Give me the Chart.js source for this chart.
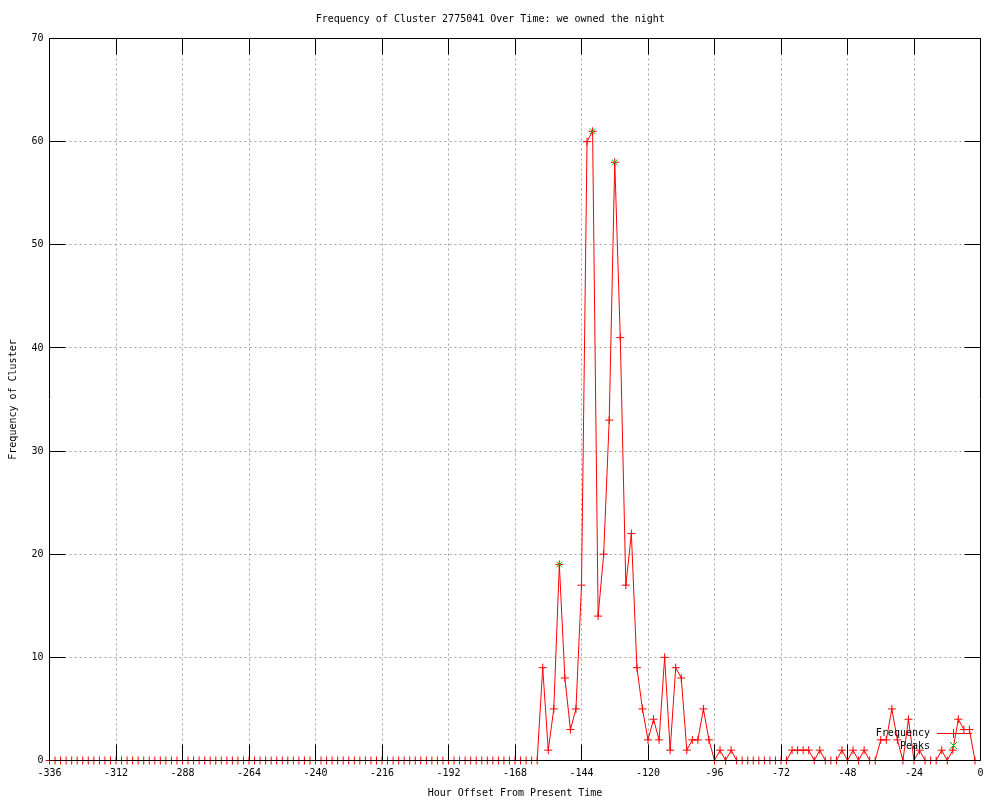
<!DOCTYPE html>
<html lang="en">

<head>
    <meta charset="utf-8">
    <title>Frequency of Cluster 2775041</title>
    <script src="https://cdn.jsdelivr.net/npm/chart.js"></script>
    <style>
        html, body { margin: 0; padding: 0; background: #fff; }
        #wrap { width: 1000px; height: 800px; }
    </style>
</head>

<body>
    <div id="wrap"><canvas id="grafico" width="1000" height="800"></canvas></div>

    <script>
        // hourly buckets, every 2 hours from -336 to -2
        const startHour = -336;
        const hourStep = 2;

        // -336 .. -160 are all zero (89 buckets)
        const quietHours = 89;

        // -158 .. -2
        const frequency = [
            9, 1, 5, 19, 8, 3, 5, 17, 60, 61,
            14, 20, 33, 58, 41, 17, 22, 9, 5, 2,
            4, 2, 10, 1, 9, 8, 1, 2, 2, 5,
            2, 0, 1, 0, 1, 0, 0, 0, 0, 0,
            0, 0, 0, 0, 0, 1, 1, 1, 1, 0,
            1, 0, 0, 0, 1, 0, 1, 0, 1, 0,
            0, 2, 2, 5, 2, 0, 4, 0, 1, 0,
            0, 0, 1, 0, 1, 4, 3, 3, 0
        ];

        const peakHours = [-152, -140, -132];
        const peakValues = [19, 61, 58];

        const xTicks = [-336, -312, -288, -264, -240, -216, -192, -168, -144, -120, -96, -72, -48, -24, 0];
        const yTicks = [0, 10, 20, 30, 40, 50, 60, 70];

        const allValues = new Array(quietHours).fill(0).concat(frequency);
        const freqPoints = allValues.map((v, i) => ({ x: startHour + i * hourStep, y: v }));
        const peakPoints = peakHours.map((h, i) => ({ x: h, y: peakValues[i] }));

        const FONT = '"DejaVu Sans Mono", "Liberation Mono", monospace';

        // gnuplot style frame: dotted grid, border and inward ticks on every side, key
        const moldura = {
            id: 'moldura',
            beforeDatasetsDraw(chart) {
                const { ctx, chartArea: a, scales: { x, y } } = chart;
                ctx.save();
                ctx.strokeStyle = '#a0a0a0';
                ctx.lineWidth = 1;
                ctx.setLineDash([2, 3]);
                ctx.beginPath();
                xTicks.slice(1, -1).forEach(t => {
                    const px = Math.floor(x.getPixelForValue(t)) + 0.5;
                    ctx.moveTo(px, a.top); ctx.lineTo(px, a.bottom);
                });
                yTicks.slice(1, -1).forEach(t => {
                    const py = Math.floor(y.getPixelForValue(t)) + 0.5;
                    ctx.moveTo(a.left, py); ctx.lineTo(a.right, py);
                });
                ctx.stroke();
                ctx.restore();
            },
            afterDatasetsDraw(chart) {
                const { ctx, chartArea: a, scales: { x, y } } = chart;
                const L = Math.floor(a.left) + 0.5, R = Math.floor(a.right) + 0.5;
                const T = Math.floor(a.top) + 0.5, B = Math.floor(a.bottom) + 0.5;
                const tl = 16;
                ctx.save();
                ctx.strokeStyle = '#000';
                ctx.lineWidth = 1;
                ctx.beginPath();
                ctx.rect(L, T, R - L, B - T);
                xTicks.forEach(t => {
                    const px = Math.floor(x.getPixelForValue(t)) + 0.5;
                    ctx.moveTo(px, B); ctx.lineTo(px, B - tl);
                    ctx.moveTo(px, T); ctx.lineTo(px, T + tl);
                });
                yTicks.forEach(t => {
                    const py = Math.floor(y.getPixelForValue(t)) + 0.5;
                    ctx.moveTo(L, py); ctx.lineTo(L + tl, py);
                    ctx.moveTo(R, py); ctx.lineTo(R - tl, py);
                });
                ctx.stroke();

                // key
                ctx.font = '10px ' + FONT;
                ctx.fillStyle = '#000';
                ctx.textAlign = 'right';
                ctx.textBaseline = 'middle';
                ctx.fillText('Frequency', 930, 733);
                ctx.fillText('Peaks', 930, 746);
                ctx.strokeStyle = '#ff0000';
                ctx.beginPath();
                ctx.moveTo(937, 733.5); ctx.lineTo(972, 733.5);
                ctx.moveTo(953.5, 729); ctx.lineTo(953.5, 738);
                ctx.stroke();
                ctx.strokeStyle = '#00c000';
                ctx.beginPath();
                ctx.moveTo(950, 742); ctx.lineTo(957, 749);
                ctx.moveTo(957, 742); ctx.lineTo(950, 749);
                ctx.stroke();
                ctx.restore();
            }
        };

        const ctx = document.getElementById('grafico').getContext('2d');
        new Chart(ctx, {
            type: 'line',
            data: {
                datasets: [{
                    label: 'Frequency',
                    data: freqPoints,
                    borderColor: '#ff0000',
                    backgroundColor: '#ff0000',
                    borderWidth: 1,
                    tension: 0,
                    pointStyle: 'cross',
                    pointRadius: 4,
                    pointBorderWidth: 1,
                    pointBorderColor: '#ff0000',
                    clip: false,
                    order: 2
                }, {
                    label: 'Peaks',
                    data: peakPoints,
                    showLine: false,
                    borderColor: '#00c000',
                    backgroundColor: '#00c000',
                    pointStyle: 'crossRot',
                    pointRadius: 4,
                    pointBorderWidth: 1,
                    pointBorderColor: '#00c000',
                    clip: false,
                    order: 1
                }]
            },
            options: {
                responsive: false,
                animation: false,
                devicePixelRatio: 1,
                layout: { padding: { left: 0, right: 19.5, top: 0, bottom: 0 } },
                plugins: {
                    legend: { display: false },
                    tooltip: { enabled: false },
                    title: {
                        display: true,
                        text: 'Frequency of Cluster 2775041 Over Time: we owned the night',
                        color: '#000',
                        font: { family: FONT, size: 10, weight: 'normal', lineHeight: 1.2 },
                        padding: { top: 13, bottom: 13.5 }
                    }
                },
                scales: {
                    x: {
                        type: 'linear',
                        min: -336,
                        max: 0,
                        afterBuildTicks: s => { s.ticks = xTicks.map(v => ({ value: v })); },
                        afterFit: s => { s.height = 39.5; },
                        grid: { display: false, drawTicks: false },
                        border: { display: false },
                        ticks: {
                            color: '#000',
                            padding: 7,
                            maxRotation: 0,
                            autoSkip: false,
                            font: { family: FONT, size: 10 },
                            callback: v => v
                        },
                        title: {
                            display: true,
                            text: 'Hour Offset From Present Time',
                            color: '#000',
                            font: { family: FONT, size: 10 },
                            padding: { top: 0, bottom: 1 }
                        }
                    },
                    y: {
                        min: 0,
                        max: 70,
                        afterBuildTicks: s => { s.ticks = yTicks.map(v => ({ value: v })); },
                        afterFit: s => { s.width = 49.5; },
                        grid: { display: false, drawTicks: false },
                        border: { display: false },
                        ticks: {
                            color: '#000',
                            padding: 6,
                            autoSkip: false,
                            font: { family: FONT, size: 10 },
                            callback: v => v
                        },
                        title: {
                            display: true,
                            text: 'Frequency of Cluster',
                            color: '#000',
                            font: { family: FONT, size: 10 },
                            padding: { top: 7, bottom: 0 }
                        }
                    }
                }
            },
            plugins: [moldura]
        });
    </script>

</body>

</html>
